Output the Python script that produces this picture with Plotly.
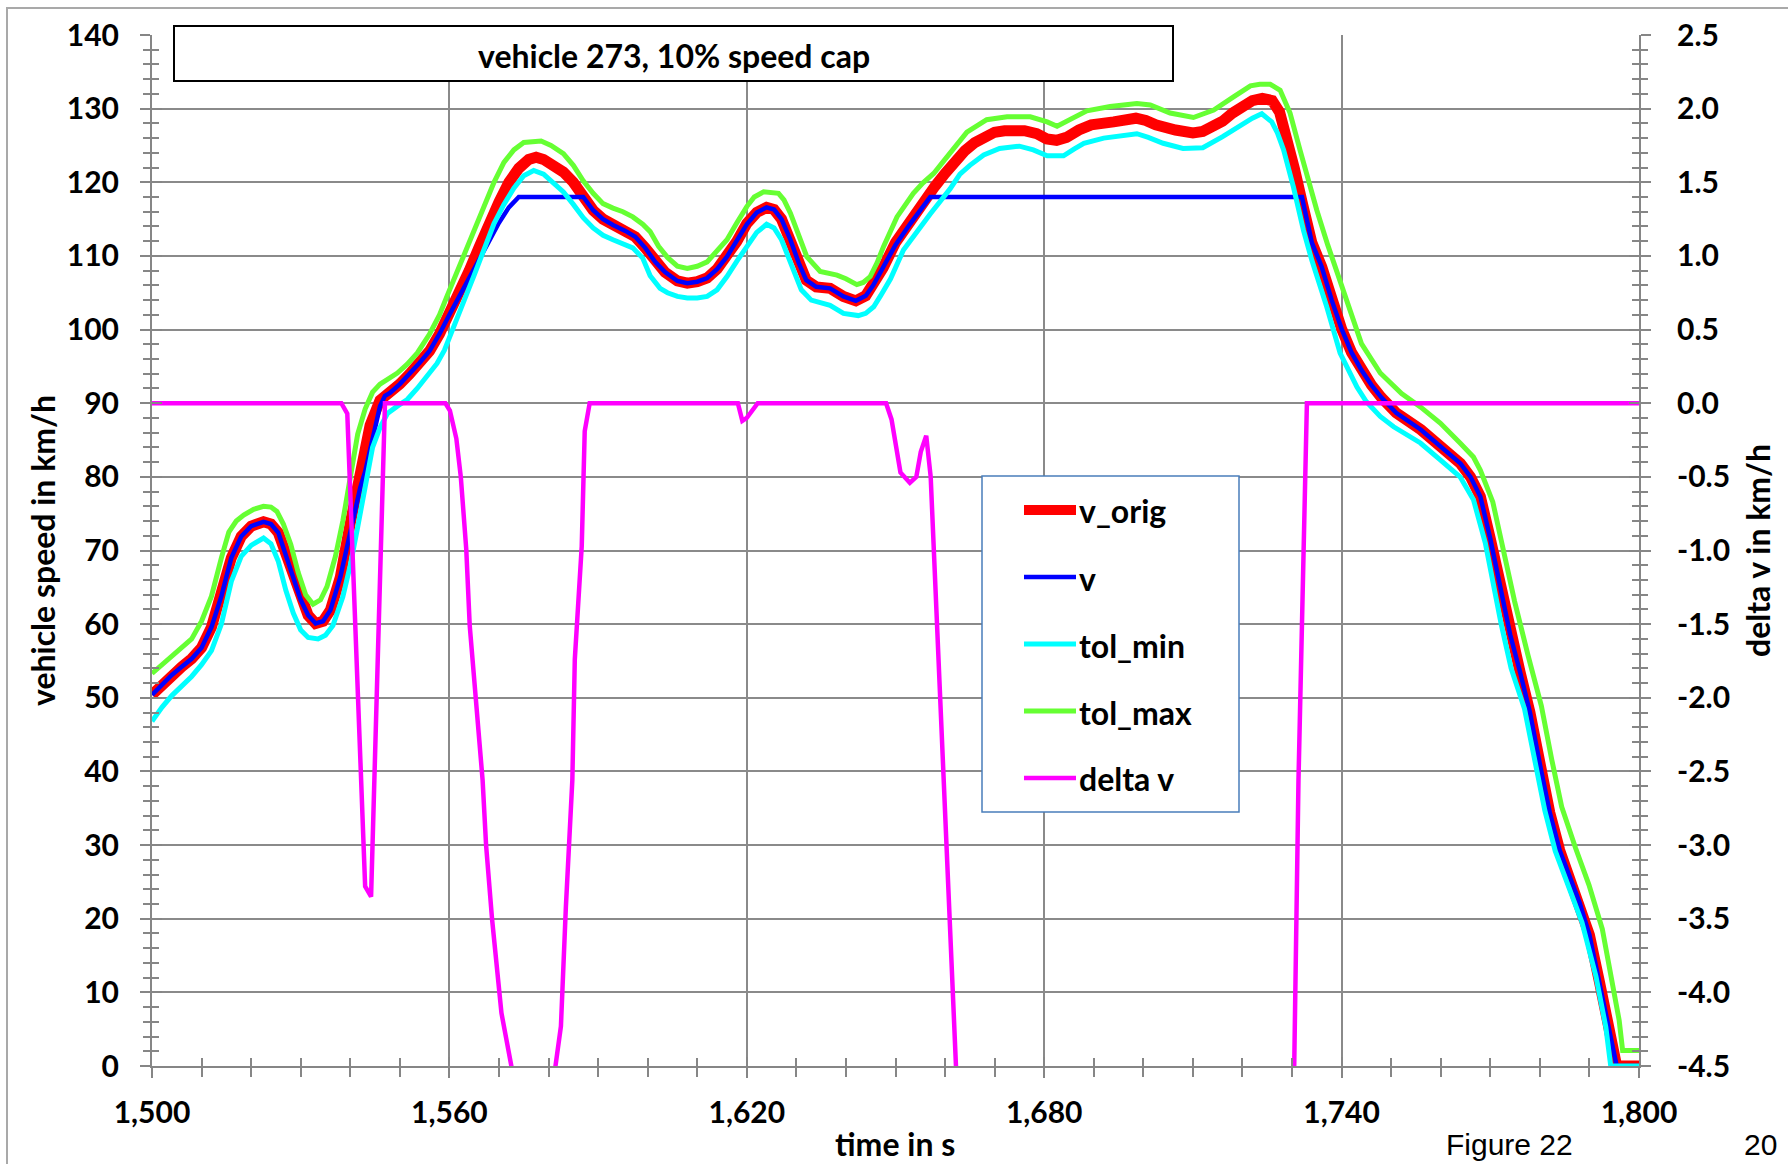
import plotly.graph_objects as go

# ---- data: speed traces over time (s), speeds in km/h ----
t_orig = [1500, 1502, 1504, 1506, 1508, 1510, 1512, 1514, 1516, 1518, 1520, 1522.5, 1524, 1525.5,
          1527, 1528.5, 1530, 1531.5, 1533, 1534.5, 1536, 1538, 1540, 1542, 1543, 1544, 1546, 1548,
          1550, 1552, 1554, 1556, 1558, 1560, 1562, 1564, 1566, 1568, 1570, 1572, 1574, 1576,
          1577.5, 1579, 1581, 1583, 1585, 1587, 1589, 1591, 1593, 1595.5, 1597.5, 1599.5, 1601.5,
          1603.5, 1606, 1608, 1610, 1612, 1614, 1616, 1618, 1620, 1622, 1624, 1625.5, 1627, 1628.8,
          1630.5, 1632, 1634, 1636.8, 1639.5, 1642, 1644, 1645.5, 1647.5, 1650, 1653, 1656, 1658,
          1660, 1662, 1664, 1666, 1668, 1670, 1672, 1676, 1678.5, 1680.5, 1682.5, 1684.5, 1687,
          1689.5, 1694, 1698.5, 1700.5, 1702.5, 1706.5, 1710, 1712, 1714, 1716, 1718, 1720, 1722,
          1724, 1726, 1727.5, 1729, 1730.5, 1732, 1734, 1736, 1738, 1740, 1742, 1744, 1746, 1748,
          1751, 1756, 1760, 1764, 1766, 1768, 1770, 1772, 1774, 1776, 1778, 1780, 1782, 1784, 1786,
          1788, 1790, 1792, 1794, 1795.5, 1800]
v_orig = [50.4, 51.8, 53.1, 54.2, 55.3, 56.8, 59.6, 63.8, 69.0, 71.9, 73.3, 73.9, 73.6, 72.4,
          69.3, 66.3, 63.3, 61.2, 60.1, 60.4, 61.9, 66.4, 73.7, 80.5, 84.0, 87.0, 90.4, 91.4,
          92.6, 94.0, 95.5, 97.1, 99.4, 102.0, 104.9, 108.0, 111.2, 114.5, 117.3, 120.0, 121.9, 123.1,
          123.4, 123.1, 122.4, 121.4, 120.0, 118.1, 116.2, 115.0, 114.2, 113.4, 112.6, 111.1, 109.2,
          107.8, 106.6, 106.3, 106.5, 107.0, 108.2, 109.9, 112.0, 114.4, 115.9, 116.6, 116.3, 115.0, 112.2,
          109.0, 106.7, 105.8, 105.6, 104.5, 103.9, 104.6, 106.0, 108.4, 111.8, 114.9, 117.4, 119.5,
          121.2, 122.8, 124.3, 125.4, 126.3, 126.8, 127.0, 127.0, 126.6, 125.9, 125.7, 126.1, 127.1,
          127.8, 128.2, 128.7, 128.4, 127.8, 127.1, 126.7, 126.9, 127.5, 128.3, 129.4, 130.3, 131.1,
          131.4, 131.1, 129.5, 126.0, 121.8, 117.4, 111.8, 108.5, 104.0, 100.1, 96.9, 94.5, 92.5, 90.8,
          88.7, 86.4, 84.1, 81.8, 80.0, 77.3, 71.6, 65.0, 58.6, 53.5, 48.0, 41.0, 34.4, 29.3, 25.6,
          22.2, 17.8, 11.5, 4.6, 0.0, 0.0]

t_v = [1500, 1502, 1504, 1506, 1508, 1510, 1512, 1514, 1516, 1518, 1520, 1522.5, 1524, 1525.5,
       1527, 1528.5, 1530, 1531.5, 1533, 1534.5, 1536, 1538, 1540, 1542, 1543, 1544, 1546, 1547,
       1548, 1550, 1552, 1554, 1556, 1558, 1560, 1562, 1564, 1566, 1568, 1570, 1572, 1574, 1587,
       1589, 1591, 1593, 1595.5, 1597.5, 1599.5, 1601.5, 1603.5, 1606, 1608, 1610, 1612, 1614, 1616,
       1618, 1620, 1622, 1624, 1625.5, 1627, 1628.8, 1630.5, 1632, 1634, 1636.8, 1639.5, 1642, 1644,
       1645.5, 1647.5, 1650, 1653, 1655, 1657, 1732, 1734, 1736, 1738, 1740, 1742, 1744, 1746, 1748,
       1751, 1756, 1760, 1764, 1766, 1768, 1770, 1772, 1774, 1776, 1778, 1780, 1782, 1784, 1786,
       1788, 1790, 1792, 1794, 1795.5, 1800]
v = [50.4, 51.8, 53.1, 54.2, 55.3, 56.8, 59.6, 63.8, 69.0, 71.9, 73.3, 73.9, 73.6, 72.4,
     69.3, 66.3, 63.3, 61.2, 60.1, 60.4, 61.9, 66.4, 72.8, 78.5, 80.7, 83.6, 89.6, 91.0,
     91.4, 92.6, 94.0, 95.5, 97.1, 99.4, 102.0, 104.6, 107.0, 109.5, 112.0, 114.5, 116.6, 118.0, 118.0,
     116.2, 115.0, 114.2, 113.4, 112.6, 111.1, 109.2, 107.8, 106.6, 106.3, 106.5, 107.0, 108.2, 109.9,
     112.0, 114.3, 115.9, 116.6, 116.3, 115.0, 112.2, 109.0, 106.7, 105.8, 105.6, 104.5, 103.9, 104.6,
     106.0, 108.4, 111.5, 114.4, 116.2, 118.0, 118.0, 111.8, 108.5, 104.0, 100.1, 96.9, 94.5, 92.5, 90.8,
     88.7, 86.4, 84.1, 81.8, 80.0, 77.3, 71.6, 65.0, 58.6, 53.5, 48.0, 41.0, 34.4, 29.3, 25.6,
     22.2, 17.8, 11.5, 4.6, 0.0, 0.0]

t_tol_min = [1500, 1502, 1504, 1506, 1508, 1510, 1512, 1514, 1516, 1518, 1520, 1522.5, 1524, 1525.5,
             1527, 1528.5, 1530, 1531.5, 1533.5, 1535, 1536.5, 1538.5, 1540, 1541.5, 1543, 1544.5,
             1546, 1547.5, 1549.5, 1551.5, 1553.5, 1555.5, 1557.5, 1559, 1561, 1563, 1565, 1567,
             1569, 1571, 1573, 1575, 1577, 1579, 1581, 1583, 1585, 1587, 1589, 1591, 1593, 1595,
             1597, 1599, 1600.5, 1602.5, 1604, 1606, 1608, 1610, 1612, 1614, 1616, 1618, 1620, 1622,
             1624, 1625.5, 1627, 1629, 1631, 1633, 1636.8, 1639.5, 1642.5, 1644, 1645.6, 1647, 1649,
             1651.6, 1655, 1657, 1659, 1661, 1663, 1665, 1667.8, 1671, 1675, 1677.8, 1680.6, 1683.9,
             1686, 1688, 1692, 1698.7, 1701, 1704, 1708, 1712, 1716, 1720, 1722, 1723.9, 1725.9,
             1727, 1728.3, 1730.3, 1732.3, 1734, 1737, 1739.7, 1743.1, 1745, 1747.8, 1750.5, 1755.9,
             1759.9, 1763.9, 1766.6, 1768, 1769, 1772.2, 1774.2, 1776.9, 1779, 1781, 1783.1, 1785.8,
             1788.5, 1791.3, 1793.3, 1794.3, 1800]
tol_min = [46.8, 48.7, 50.3, 51.6, 52.9, 54.5, 56.4, 60.0, 65.8, 69.2, 70.7, 71.7, 70.9, 68.5,
           64.6, 61.5, 59.2, 58.2, 58.0, 58.5, 59.8, 63.7, 68.0, 73.2, 78.6, 84.0,
           86.7, 88.6, 89.6, 90.5, 92.0, 93.6, 95.4, 97.2, 100.4, 104.0, 107.4, 111.0,
           114.4, 117.0, 119.2, 120.9, 121.6, 121.1, 120.0, 118.7, 117.0, 115.2, 113.8, 112.8, 112.2, 111.7,
           111.1, 109.7, 107.3, 105.6, 105.0, 104.5, 104.3, 104.3, 104.5, 105.4, 107.2, 109.3, 111.3, 113.2,
           114.3, 113.8, 112.2, 109.0, 105.4, 104.0, 103.3, 102.2, 101.9, 102.2, 103.1, 104.6, 106.9,
           110.8, 114.0, 115.7, 117.4, 119.1, 121.1, 122.3, 123.7, 124.6, 124.9, 124.4, 123.6, 123.6,
           124.5, 125.3, 126.0, 126.6, 126.1, 125.3, 124.6, 124.7, 126.2, 128.0, 128.7, 129.3, 128.2,
           126.8, 124.4, 119.3, 113.5, 109.4, 103.1, 96.8, 92.2, 90.2, 88.2, 86.8, 84.6,
           82.3, 80.0, 76.9, 73.2, 71.0, 60.0, 54.0, 48.5, 41.6, 34.7, 29.2, 24.1,
           19.5, 12.2, 5.3, 0.0, 0.0]

t_tol_max = [1500, 1502, 1504, 1506, 1508, 1510, 1512, 1514, 1515.5, 1517, 1518.5, 1520.5, 1522.5,
             1524, 1525.2, 1526.5, 1528, 1529.5, 1531, 1532.5, 1534, 1535.3, 1537, 1538.5, 1540,
             1541.5, 1543, 1544.5, 1546, 1548, 1549.5, 1551.5, 1553.5, 1556, 1558, 1559.5, 1561,
             1563, 1565, 1567, 1569, 1571, 1573, 1575, 1577, 1578.5, 1580.5, 1583, 1585, 1587, 1589,
             1591, 1593, 1595, 1597, 1599, 1600.5, 1602.2, 1604, 1606, 1608, 1610, 1612, 1614, 1616,
             1618, 1620, 1621.5, 1623.4, 1626.4, 1627.5, 1628.8, 1630.5, 1632.1, 1634.8, 1638.2, 1640,
             1642.2, 1643.5, 1644.9, 1646.3, 1647.6, 1650.3, 1653.6, 1655.5, 1657.7, 1659.5, 1661.4,
             1664.4, 1668.4, 1672.5, 1677.2, 1680.6, 1682.6, 1685.3, 1688.6, 1693.3, 1698.7, 1701.4,
             1705.4, 1710.1, 1714.2, 1718.2, 1721.6, 1723.5, 1725.6, 1727.6, 1729.6, 1731.6, 1733.6,
             1735, 1737.2, 1740.7, 1744, 1747.8, 1752.1, 1755.9, 1759.9, 1763.9, 1766.6, 1768, 1770.5,
             1772.2, 1774.9, 1777.6, 1780.3, 1782.4, 1784.4, 1787.2, 1789.9, 1792.6, 1794.6, 1796,
             1796.7, 1800]
tol_max = [53.3, 54.5, 55.8, 56.9, 58.0, 60.4, 63.8, 69.0, 72.5, 74.0, 74.8, 75.6, 76.0,
           75.9, 75.3, 73.6, 70.8, 67.0, 64.0, 62.7, 63.3, 65.1, 69.2, 74.0, 80.3,
           85.8, 89.2, 91.5, 92.6, 93.4, 94.1, 95.3, 96.8, 99.4, 102.0, 104.5, 107.0,
           110.0, 113.7, 117.0, 120.0, 122.7, 124.4, 125.4, 125.6, 125.6, 125.0, 123.9, 122.3, 120.2, 118.5,
           117.1, 116.5, 116.0, 115.3, 114.3, 113.3, 111.3, 109.8, 108.6, 108.3, 108.6, 109.2, 110.6, 112.2,
           114.5, 116.7, 118.0, 118.7, 118.5, 117.6, 115.8, 112.5, 109.9, 107.9, 107.4, 106.9,
           106.1, 106.4, 107.2, 109.1, 111.3, 115.3, 118.5, 119.9, 121.2, 122.7, 124.2,
           126.8, 128.5, 128.9, 128.9, 128.2, 127.6, 128.5, 129.7, 130.3, 130.7, 130.5,
           129.4, 128.8, 129.8, 131.6, 133.1, 133.3, 133.3, 132.5, 129.4, 124.4, 119.5,
           116.2, 111.5, 104.5, 98.1, 94.1, 91.3, 89.5, 87.3, 84.6, 82.7, 80.9, 76.6,
           71.4, 63.1, 55.8, 48.9, 41.6, 35.2, 29.6, 24.6, 18.6, 11.7, 6.2,
           2.1, 2.1]

# speed difference v - v_orig (km/h), right axis
t_delta = [1500, 1538.2, 1539.4, 1543.0, 1544.2, 1547.0, 1559.2, 1560.1, 1561.4, 1562.3, 1563.4,
           1564.1, 1566.7, 1567.4, 1568.6, 1570.5, 1572.5, 1574, 1576, 1578, 1580, 1581.4, 1582.5,
           1583.5, 1584.8, 1585.3, 1586.7, 1587.3, 1588.3, 1618.2, 1619.1, 1620.0, 1622.2, 1648.1,
           1649.2, 1650.1, 1651.0, 1652.9, 1654.2, 1655.1, 1656.2, 1657.1, 1657.8, 1658.7, 1662.2,
           1664, 1670, 1680, 1690, 1700, 1710, 1720, 1724, 1728, 1730.6, 1731.3, 1733.0, 1800]
delta_v = [0, 0, -0.07, -3.28, -3.35, 0, 0, -0.05, -0.24, -0.5, -0.99,
           -1.51, -2.56, -3.0, -3.5, -4.14, -4.5, -5.2, -5.1, -5.4, -5.0, -4.5, -4.23,
           -3.42, -2.56, -1.74, -0.97, -0.19, 0, 0, -0.12, -0.1, 0, 0,
           -0.11, -0.29, -0.47, -0.54, -0.5, -0.33, -0.22, -0.5, -1.06, -1.74, -4.5,
           -6.3, -8.8, -7.9, -9.8, -10.4, -8.7, -12.3, -13.4, -10.0, -4.5, -2.56, 0, 0]

# ---- axis ticks ----
x_range = [1500, 1800]
speed_range = [0, 140]
delta_range = [-4.5, 2.5]
delta_tick_vals = [2.5, 2.0, 1.5, 1.0, 0.5, 0.0, -0.5, -1.0, -1.5, -2.0, -2.5, -3.0, -3.5, -4.0, -4.5]
delta_tick_text = ["2.5", "2.0", "1.5", "1.0", "0.5", "0.0", "-0.5", "-1.0", "-1.5", "-2.0",
                   "-2.5", "-3.0", "-3.5", "-4.0", "-4.5"]

series_names = ["v_orig", "v", "tol_min", "tol_max", "delta v"]
series_colors = ["#FF0000", "#0000FF", "#00FFFF", "#66FF33", "#FF00FF"]
series_widths = [11, 4.5, 5, 5, 4.5]

# ---- page geometry (pixels) ----
W, H = 1788, 1164
L, R, T, B = 152, 1639, 35, 1066


def px(x):
    return (x - L) / (R - L)


def py(y):
    return (B - y) / (B - T)


FONT = "Lato"
AXIS_GREY = "#868686"
GRID_GREY = "#8a8a8a"
tick_font = dict(family=FONT, size=30, color="black", weight="bold")

fig = go.Figure()

series = [(t_orig, v_orig, "y"), (t_v, v, "y"), (t_tol_min, tol_min, "y"),
          (t_tol_max, tol_max, "y"), (t_delta, delta_v, "y2")]
for (tx, ty, yax), name, col, wd in zip(series, series_names, series_colors, series_widths):
    fig.add_trace(go.Scatter(x=tx, y=ty, yaxis=yax, mode="lines", name=name,
                             line=dict(color=col, width=wd), showlegend=False,
                             hoverinfo="x+y+name"))

# empty helpers so the overlay axes that carry the inner half of the tick marks get drawn
fig.add_trace(go.Scatter(x=[None], y=[None], xaxis="x3", yaxis="y", showlegend=False, hoverinfo="skip"))
fig.add_trace(go.Scatter(x=[None], y=[None], xaxis="x", yaxis="y3", showlegend=False, hoverinfo="skip"))
fig.add_trace(go.Scatter(x=[None], y=[None], xaxis="x", yaxis="y4", showlegend=False, hoverinfo="skip"))

common = dict(showline=True, linecolor=AXIS_GREY, linewidth=2, zeroline=False,
              tickcolor=AXIS_GREY, tickwidth=2, ticklen=10, ticks="outside",
              tickfont=tick_font)

fig.update_layout(
    width=W, height=H, autosize=False,
    margin=dict(l=L, r=W - R, t=T, b=H - B, pad=0),
    paper_bgcolor="white", plot_bgcolor="white",
    font=dict(family=FONT, color="black"),
    xaxis=dict(range=x_range, tick0=1500, dtick=60, tickformat=",d",
               showgrid=True, gridcolor=GRID_GREY, gridwidth=2,
               minor=dict(dtick=10, ticks="outside", ticklen=9, tickwidth=2,
                          tickcolor=AXIS_GREY, showgrid=False),
               ticklabelstandoff=9, **common),
    yaxis=dict(range=speed_range, dtick=10,
               showgrid=True, gridcolor=GRID_GREY, gridwidth=2,
               minor=dict(dtick=2, ticks="outside", ticklen=7, tickwidth=2,
                          tickcolor=AXIS_GREY, showgrid=False),
               ticklabelstandoff=15, **common),
    yaxis2=dict(range=delta_range, overlaying="y", side="right", anchor="x",
                tickmode="array", tickvals=delta_tick_vals, ticktext=delta_tick_text,
                showgrid=False,
                minor=dict(dtick=0.1, ticks="outside", ticklen=7, tickwidth=2,
                           tickcolor=AXIS_GREY, showgrid=False),
                ticklabelstandoff=20, **common),
    xaxis3=dict(range=x_range, overlaying="x", anchor="y", side="bottom", tick0=1500, dtick=60,
                showticklabels=False, showgrid=False, showline=False, zeroline=False,
                ticks="inside", ticklen=9, tickwidth=2, tickcolor=AXIS_GREY,
                minor=dict(dtick=10, ticks="inside", ticklen=8, tickwidth=2, tickcolor=AXIS_GREY)),
    yaxis3=dict(range=speed_range, overlaying="y", anchor="x", side="left", dtick=10,
                showticklabels=False, showgrid=False, showline=False, zeroline=False,
                ticks="inside", ticklen=10, tickwidth=2, tickcolor=AXIS_GREY,
                minor=dict(dtick=2, ticks="inside", ticklen=7, tickwidth=2, tickcolor=AXIS_GREY)),
    yaxis4=dict(range=delta_range, overlaying="y", anchor="x", side="right", dtick=0.5,
                showticklabels=False, showgrid=False, showline=False, zeroline=False,
                ticks="inside", ticklen=10, tickwidth=2, tickcolor=AXIS_GREY,
                minor=dict(dtick=0.1, ticks="inside", ticklen=7, tickwidth=2, tickcolor=AXIS_GREY)),
)

shapes = []
# outer chart frame
shapes.append(dict(type="rect", xref="paper", yref="paper", x0=px(7), x1=px(1810),
                   y0=py(8), y1=py(1190), line=dict(color="#a9a9a9", width=2), layer="above"))
# title box
shapes.append(dict(type="rect", xref="paper", yref="paper", x0=px(174), x1=px(1173),
                   y0=py(26), y1=py(81), line=dict(color="black", width=2),
                   fillcolor="white", layer="above"))
# legend box
shapes.append(dict(type="rect", xref="paper", yref="paper", x0=px(982), x1=px(1239),
                   y0=py(476), y1=py(812), line=dict(color="#4a7ebb", width=1.5),
                   fillcolor="white", layer="above"))
legend_rows = [510, 577, 644, 711, 778]
legend_line_w = [10, 4.5, 5, 5, 4.5]
for yrow, col, wd in zip(legend_rows, series_colors, legend_line_w):
    shapes.append(dict(type="line", xref="paper", yref="paper", x0=px(1024), x1=px(1076),
                       y0=py(yrow), y1=py(yrow), line=dict(color=col, width=wd), layer="above"))
fig.update_layout(shapes=shapes)

bold = dict(family=FONT, size=32, color="black", weight="bold")
ann = []
ann.append(dict(text="vehicle 273, 10% speed cap", xref="paper", yref="paper",
                x=px(673.5), y=py(55), xanchor="center", yanchor="middle",
                showarrow=False, font=bold))
for yrow, name in zip(legend_rows, series_names):
    ann.append(dict(text=name, xref="paper", yref="paper", x=px(1077), y=py(yrow + 1),
                    xanchor="left", yanchor="middle", showarrow=False, font=bold))
ann.append(dict(text="vehicle speed in km/h", xref="paper", yref="paper", x=px(42), y=py(551),
                xanchor="center", yanchor="middle", textangle=-90, showarrow=False, font=bold))
ann.append(dict(text="delta v in km/h", xref="paper", yref="paper", x=px(1757), y=py(551),
                xanchor="center", yanchor="middle", textangle=-90, showarrow=False, font=bold))
ann.append(dict(text="time in s", xref="paper", yref="paper", x=px(895), y=py(1143),
                xanchor="center", yanchor="middle", showarrow=False, font=bold))
ann.append(dict(text="Figure 22", xref="paper", yref="paper", x=px(1444), y=py(1163),
                xanchor="left", yanchor="bottom", showarrow=False,
                font=dict(family="Liberation Sans", size=30, color="black")))
ann.append(dict(text="20", xref="paper", yref="paper", x=px(1742), y=py(1163),
                xanchor="left", yanchor="bottom", showarrow=False,
                font=dict(family="Liberation Sans", size=30, color="black")))
fig.update_layout(annotations=ann)

fig.write_html("out.html")
